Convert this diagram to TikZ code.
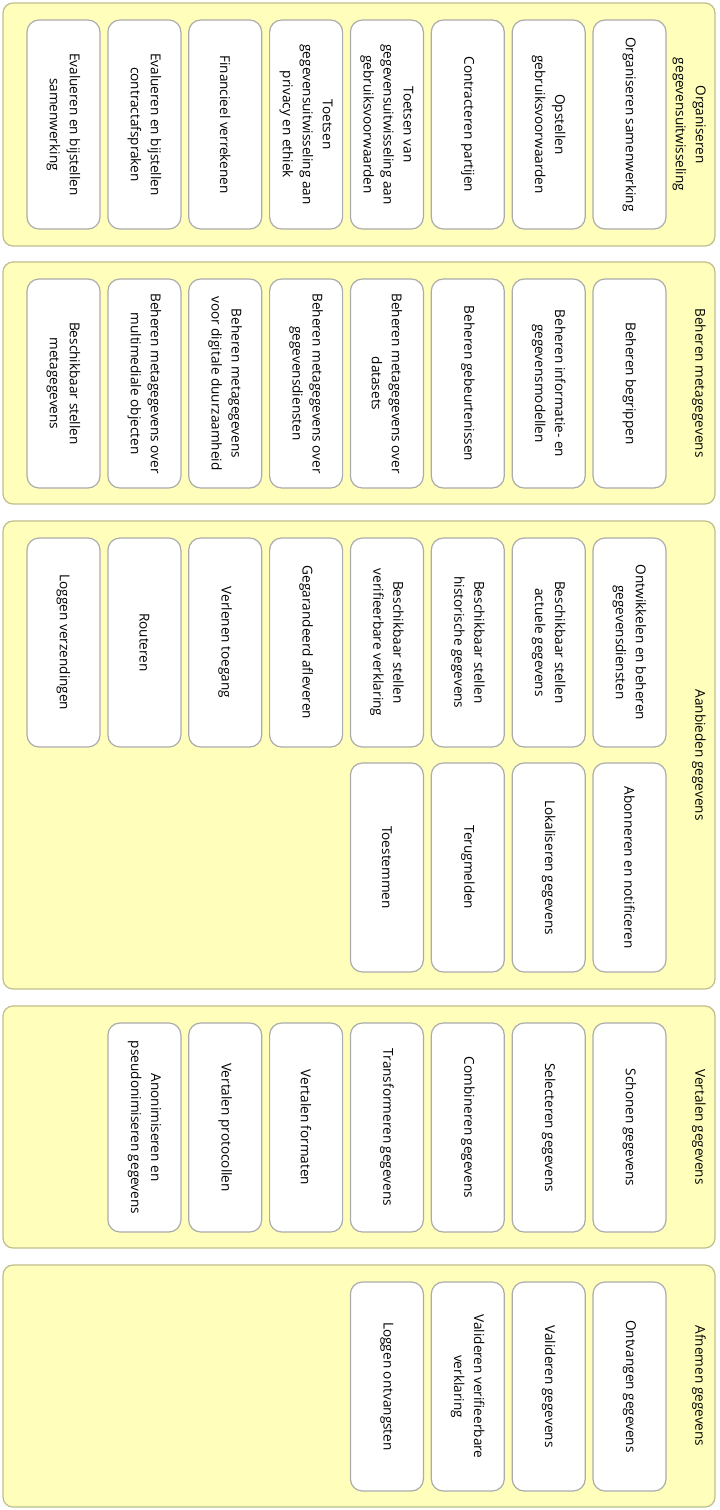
\documentclass[tikz,border=0pt]{standalone}
\usepackage{fontspec}
\setmainfont{Open Sans}
\usepackage{tikz}

\definecolor{panelfill}{RGB}{255,255,187}
\definecolor{paneldraw}{RGB}{190,190,140}
\definecolor{boxdraw}{RGB}{172,172,172}

\begin{document}
\begin{tikzpicture}[
    x=1pt, y=-1pt,
    every node/.style={
      font=\fontsize{13.6}{20}\selectfont, align=center
    },
    panel/.style={
      rectangle, rounded corners=10pt, draw=paneldraw, fill=panelfill,
      line width=1.2pt, minimum width=712pt, minimum height=#1
    },
    title/.style={
      rotate=-90, anchor=north, inner sep=0pt
    },
    box/.style={
      rectangle, rounded corners=12pt, draw=boxdraw, fill=white,
      line width=1.2pt, rotate=-90,
      minimum width=209pt, minimum height=73pt, inner sep=2pt
    }
    ]
  \useasboundingbox (0,0) rectangle (720,1510);

  % panels
  \node[panel=243pt] (g1) at (359,124.5) {};
  \node[panel=242pt] (g2) at (359,383) {};
  \node[panel=468pt] (g3) at (359,755) {};
  \node[panel=242pt] (g4) at (359,1127) {};
  \node[panel=242pt] (g5) at (359,1386) {};

  \node[title] (t1) at (706,124.5) {Organiseren\\gegevensuitwisseling};
  \node[title] (t2) at (706,383) {Beheren metagegevens};
  \node[title] (t3) at (706,755) {Aanbieden gegevens};
  \node[title] (t4) at (706,1127) {Vertalen gegevens};
  \node[title] (t5) at (706,1386) {Afnemen gegevens};

  % organiseren gegevensuitwisseling
  \node[box] (n11) at (629.5,124.5) {Organiseren samenwerking};
  \node[box] (n12) at (548.7,124.5) {Opstellen\\gebruiksvoorwaarden};
  \node[box] (n13) at (467.8,124.5) {Contracteren partijen};
  \node[box] (n14) at (386.9,124.5) {Toetsen van\\gegevensuitwisseling aan\\gebruiksvoorwaarden};
  \node[box] (n15) at (306.1,124.5) {Toetsen\\gegevensuitwisseling aan\\privacy en ethiek};
  \node[box] (n16) at (225.2,124.5) {Financieel verrekenen};
  \node[box] (n17) at (144.4,124.5) {Evalueren en bijstellen\\contractafspraken};
  \node[box] (n18) at (63.5,124.5) {Evalueren en bijstellen\\samenwerking};

  % beheren metagegevens
  \node[box] (n21) at (629.5,383.5) {Beheren begrippen};
  \node[box] (n22) at (548.7,383.5) {Beheren informatie- en\\gegevensmodellen};
  \node[box] (n23) at (467.8,383.5) {Beheren gebeurtenissen};
  \node[box] (n24) at (386.9,383.5) {Beheren metagegevens over\\datasets};
  \node[box] (n25) at (306.1,383.5) {Beheren metagegevens over\\gegevensdiensten};
  \node[box] (n26) at (225.2,383.5) {Beheren metagegevens\\voor digitale duurzaamheid};
  \node[box] (n27) at (144.4,383.5) {Beheren metagegevens over\\multimediale objecten};
  \node[box] (n28) at (63.5,383.5) {Beschikbaar stellen\\metagegevens};

  % aanbieden gegevens
  \node[box] (n31) at (629.5,642.5) {Ontwikkelen en beheren\\gegevensdiensten};
  \node[box] (n32) at (548.7,642.5) {Beschikbaar stellen\\actuele gegevens};
  \node[box] (n33) at (467.8,642.5) {Beschikbaar stellen\\historische gegevens};
  \node[box] (n34) at (386.9,642.5) {Beschikbaar stellen\\verifieerbare verklaring};
  \node[box] (n35) at (306.1,642.5) {Gegarandeerd afleveren};
  \node[box] (n36) at (225.2,642.5) {Verlenen toegang};
  \node[box] (n37) at (144.4,642.5) {Routeren};
  \node[box] (n38) at (63.5,642.5) {Loggen verzendingen};
  \node[box] (r31) at (629.5,867.5) {Abonneren en notificeren};
  \node[box] (r32) at (548.7,867.5) {Lokaliseren gegevens};
  \node[box] (r33) at (467.8,867.5) {Terugmelden};
  \node[box] (r34) at (386.9,867.5) {Toestemmen};

  % vertalen gegevens
  \node[box] (n41) at (629.5,1127.5) {Schonen gegevens};
  \node[box] (n42) at (548.7,1127.5) {Selecteren gegevens};
  \node[box] (n43) at (467.8,1127.5) {Combineren gegevens};
  \node[box] (n44) at (386.9,1127.5) {Transformeren gegevens};
  \node[box] (n45) at (306.1,1127.5) {Vertalen formaten};
  \node[box] (n46) at (225.2,1127.5) {Vertalen protocollen};
  \node[box] (n47) at (144.4,1127.5) {Anonimiseren en\\pseudonimiseren gegevens};

  % afnemen gegevens
  \node[box] (n51) at (629.5,1386.5) {Ontvangen gegevens};
  \node[box] (n52) at (548.7,1386.5) {Valideren gegevens};
  \node[box] (n53) at (467.8,1386.5) {Valideren verifieerbare\\verklaring};
  \node[box] (n54) at (386.9,1386.5) {Loggen ontvangsten};
\end{tikzpicture}
\end{document}
